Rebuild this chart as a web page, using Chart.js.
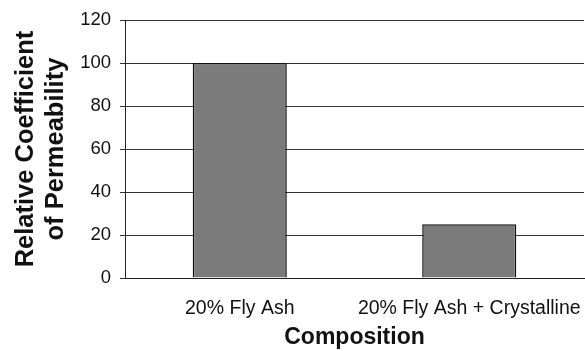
<!DOCTYPE html>
<html>
<head>
<meta charset="utf-8">
<script src="https://cdn.jsdelivr.net/npm/chart.js@4"></script>
<style>
  html, body { margin: 0; padding: 0; background: #fff; }
  #wrap { width: 585px; height: 351px; }
</style>
</head>
<body>
<div id="wrap"><canvas id="permChart" width="585" height="351"></canvas></div>
<script>
const categories = ['20% Fly Ash', '20% Fly Ash + Crystalline'];
const permeability = [100, 25];
const yTicks = [0, 20, 40, 60, 80, 100, 120];

const ctx = document.getElementById('permChart').getContext('2d');
const fontFamily = '"Liberation Sans", Arial, sans-serif';

new Chart(ctx, {
    type: 'bar',
    data: {
        labels: categories,
        datasets: [{
            label: 'Relative Coefficient of Permeability',
            data: permeability,
            backgroundColor: '#7b7b7b',
            borderColor: '#111',
            borderWidth: 1.5,
            categoryPercentage: 1,
            barPercentage: 0.41
        }]
    },
    options: {
        responsive: false,
        animation: false,
        layout: { padding: { top: 18, right: 1, left: 0, bottom: 0 } },
        plugins: {
            legend: { display: false },
            tooltip: { enabled: false }
        },
        scales: {
            x: {
                afterFit: (scale) => {
                    scale.height = 73;
                    scale.paddingLeft = 0;
                    scale.paddingRight = 0;
                },
                grid: { display: false, drawTicks: false },
                border: { display: true, color: '#222' },
                ticks: {
                    color: '#111',
                    padding: 18.5,
                    autoSkip: false,
                    maxRotation: 0,
                    font: { family: fontFamily, size: 19.5 }
                },
                title: {
                    display: true,
                    text: 'Composition',
                    color: '#111',
                    padding: { top: 0, bottom: 0 },
                    font: { family: fontFamily, size: 23, weight: 'bold', lineHeight: 1.2 }
                }
            },
            y: {
                min: 0,
                max: 120,
                afterFit: (scale) => { scale.width = 125; },
                afterBuildTicks: (scale) => {
                    scale.ticks = yTicks.map(v => ({ value: v }));
                },
                grid: { color: '#333', lineWidth: 1, tickLength: 5 },
                border: { display: true, color: '#222' },
                ticks: {
                    color: '#111',
                    padding: 9,
                    font: { family: fontFamily, size: 18.5 }
                },
                title: {
                    display: true,
                    text: ['Relative Coefficient', 'of Permeability'],
                    color: '#111',
                    padding: { top: 11, bottom: 0 },
                    font: { family: fontFamily, size: 25.5, weight: 'bold', lineHeight: 1.18 }
                }
            }
        }
    }
});
</script>
</body>
</html>
